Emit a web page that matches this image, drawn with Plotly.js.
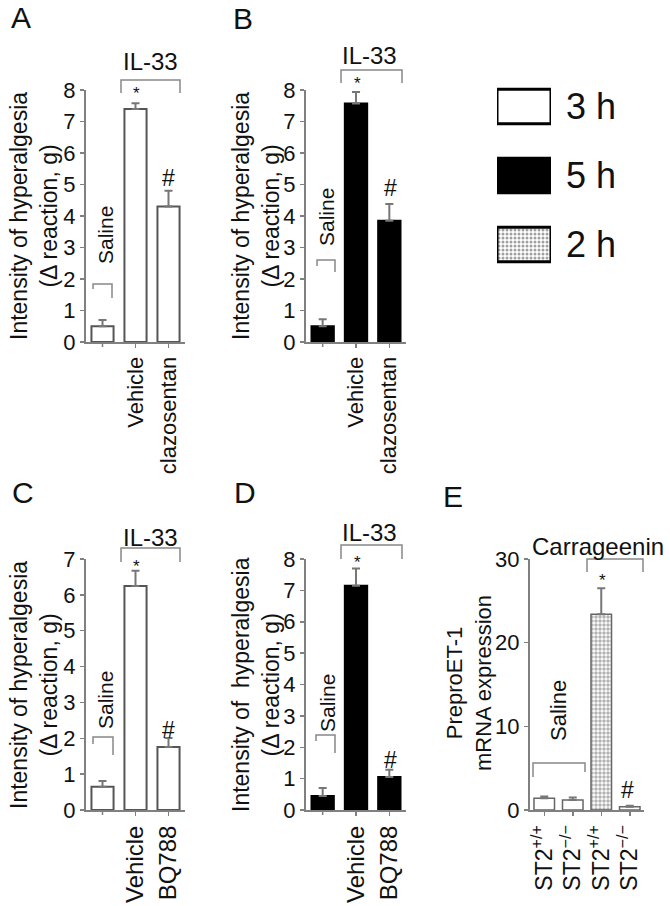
<!DOCTYPE html>
<html><head><meta charset="utf-8">
<script src="https://cdn.plot.ly/plotly-3.0.1.min.js"></script>
<style>html,body{margin:0;padding:0;background:#fff}</style>
</head><body><div id="chart" style="width:670px;height:906px"></div>
<script>
// ---- data ----
const catsAB = ['Saline', 'Vehicle', 'clazosentan'];
const catsCD = ['Saline', 'Vehicle', 'BQ788'];
const catsE = ['ST2+/+ saline', 'ST2-/- saline', 'ST2+/+ carrageenin', 'ST2-/- carrageenin'];
const labelledAB = ['Vehicle', 'clazosentan'];
const labelledCD = ['Vehicle', 'BQ788'];
const tickTextE = ['ST2<sup>+/+</sup>', 'ST2<sup>−/−</sup>', 'ST2<sup>+/+</sup>', 'ST2<sup>−/−</sup>'];
const valuesA = [0.5, 7.4, 4.3];
const errorsA = [0.2, 0.18, 0.5];
const valuesB = [0.5, 7.57, 3.85];
const errorsB = [0.22, 0.37, 0.53];
const valuesC = [0.65, 6.25, 1.76];
const errorsC = [0.16, 0.42, 0.25];
const valuesD = [0.45, 7.15, 1.05];
const errorsD = [0.25, 0.55, 0.23];
const valuesE = [1.4, 1.2, 23.4, 0.4];
const errorsE = [0.2, 0.3, 3.1, 0.1];
const legendLabels = ['3 h', '5 h', '2 h'];
const legendValues = [1, 1, 1];

// ---- helpers ----
const W = 670, H = 906;
const fx = p => p / W;
const fy = p => 1 - p / H;
const FONT = 'Liberation Sans, Arial, Helvetica, sans-serif';
const AX = '#808080';

function xAx(dom, n, tickvals, ticktext, anchor, fs) {
  return {domain: [fx(dom[0]), fx(dom[1])], anchor: anchor, range: [-0.5, n - 0.5],
    type: 'category', tickmode: 'array', tickvals: tickvals, ticktext: ticktext,
    tickangle: -90, showline: true, linecolor: AX, linewidth: 2, ticks: 'outside',
    ticklen: 4, tickwidth: 1.5, tickcolor: AX, showgrid: false, zeroline: false,
    tickfont: {size: fs, color: '#111', family: FONT}, fixedrange: true};
}
function yAx(dom, range, dtick, anchor) {
  return {domain: [fy(dom[1]), fy(dom[0])], anchor: anchor, range: range, dtick: dtick, tick0: 0,
    showline: true, linecolor: AX, linewidth: 2, ticks: 'outside', ticklen: 4, tickwidth: 1.5,
    tickcolor: AX, showgrid: false, zeroline: false,
    tickfont: {size: 22, color: '#111', family: FONT}, fixedrange: true};
}
function barTrace(cats, vals, errs, xa, ya, fill, line, width) {
  return {type: 'bar', x: cats, y: vals, xaxis: xa, yaxis: ya, width: width,
    marker: {color: fill, line: {color: line, width: 2}},
    error_y: {type: 'data', array: errs, arrayminus: errs.map(() => 0), symmetric: false,
      color: '#777', thickness: 2, width: 4},
    hoverinfo: 'none'};
}

const traces = [
  barTrace(catsAB, valuesA, errorsA, 'x', 'y', '#ffffff', '#555', 0.67),
  barTrace(catsAB, valuesB, errorsB, 'x2', 'y2', '#000000', '#000', 0.67),
  barTrace(catsCD, valuesC, errorsC, 'x3', 'y3', '#ffffff', '#555', 0.67),
  barTrace(catsCD, valuesD, errorsD, 'x4', 'y4', '#000000', '#000', 0.67),
];
const eTrace = barTrace(catsE, valuesE, errorsE, 'x5', 'y5', '#ffffff', '#666', 0.72);
eTrace.marker.line.width = 1.5;
eTrace.marker.pattern = {shape: ['', '', '.', ''], fgcolor: '#666', bgcolor: '#ffffff',
  size: 4, solidity: 0.6, fillmode: 'overlay'};
traces.push(eTrace);
// legend boxes
traces.push({type: 'bar', orientation: 'h', y: legendLabels, x: legendValues, xaxis: 'x6', yaxis: 'y6',
  width: 0.5, hoverinfo: 'none',
  marker: {color: ['#ffffff', '#000000', '#ffffff'], line: {color: '#000', width: 3},
    pattern: {shape: ['', '', '.'], fgcolor: '#888', bgcolor: '#ffffff', size: 4, solidity: 0.45, fillmode: 'overlay'}}});

const layout = {
  width: W, height: H, margin: {l: 0, r: 0, t: 0, b: 0}, showlegend: false,
  paper_bgcolor: '#fff', plot_bgcolor: 'rgba(0,0,0,0)', font: {family: FONT, color: '#111'},
  bargap: 0,
  xaxis: xAx([86, 185], 3, labelledAB, labelledAB, 'y', 22),
  yaxis: yAx([90, 342], [0, 8], 1, 'x'),
  xaxis2: xAx([306, 406], 3, labelledAB, labelledAB, 'y2', 22),
  yaxis2: yAx([90, 342], [0, 8], 1, 'x2'),
  xaxis3: xAx([86, 185], 3, labelledCD, labelledCD, 'y3', 24),
  yaxis3: yAx([559, 810], [0, 7], 1, 'x3'),
  xaxis4: xAx([306, 406], 3, labelledCD, labelledCD, 'y4', 24),
  yaxis4: yAx([559, 810], [0, 8], 1, 'x4'),
  xaxis5: xAx([530, 644], 4, catsE, tickTextE, 'y5', 23),
  yaxis5: yAx([559, 810], [0, 30], 10, 'x5'),
  xaxis6: {domain: [fx(497), fx(551)], anchor: 'y6', range: [0, 1], visible: false, fixedrange: true},
  yaxis6: {domain: [fy(279), fy(72)], anchor: 'x6', type: 'category', range: [2.5, -0.5],
    side: 'right', showline: false, showgrid: false, zeroline: false, ticks: '',
    ticklabelstandoff: 14, tickfont: {size: 36, color: '#111', family: FONT}, fixedrange: true},
  shapes: [], annotations: []
};

// unlabeled "Saline" tick mark on each of the first four x axes
[['x', 342], ['x2', 342], ['x3', 810], ['x4', 810]].forEach(([xa, yb]) => {
  layout.shapes.push({type: 'line', xref: xa, yref: 'paper', x0: 'Saline', x1: 'Saline',
    y0: fy(yb + 1), y1: fy(yb + 5), line: {color: AX, width: 1.5}});
});

function bracket(x1, x2, ytop, yl, yr) {
  layout.shapes.push({type: 'path', xref: 'paper', yref: 'paper',
    path: `M${fx(x1)},${fy(yl)} L${fx(x1)},${fy(ytop)} L${fx(x2)},${fy(ytop)} L${fx(x2)},${fy(yr)}`,
    line: {color: '#888', width: 1.5}});
}
function txt(t, x, y, size, angle) {
  layout.annotations.push({text: t, x: fx(x), y: fy(y), xref: 'paper', yref: 'paper',
    showarrow: false, xanchor: 'center', yanchor: 'middle', textangle: angle || 0,
    font: {size: size, color: '#111', family: FONT}});
}

// Panel letters
txt('A', 21, 18, 30); txt('B', 243, 19, 30); txt('C', 23, 492, 30); txt('D', 245, 492, 30); txt('E', 453, 496, 30);
// y titles
const yt = 'Intensity of hyperalgesia<br>(Δ reaction, g)';
txt(yt, 34, 216, 23, -90); txt(yt, 256, 216, 23, -90);
txt(yt, 34, 685, 23, -90); txt('Intensity of  hyperalgesia<br>(Δ reaction, g)', 256, 685, 23, -90);
txt('PreproET-1<br>mRNA expression', 469, 683, 22, -90);

// Panel A decorations
bracket(121, 180, 80, 93, 93); txt('IL-33', 150, 61, 24);
txt('*', 136, 94, 17); txt('#', 168, 178, 23);
txt('Saline', 105, 235, 21, -90); bracket(93, 112, 284, 289, 298);
// Panel B
bracket(341, 402, 70, 83, 83); txt('IL-33', 369, 56, 24);
txt('*', 357, 83, 17); txt('#', 390, 188, 23);
txt('Saline', 326, 217, 21, -90); bracket(317, 335, 260, 266, 272);
// Panel C
bracket(121, 180, 548, 562, 562); txt('IL-33', 150, 537, 24);
txt('*', 136, 566, 17); txt('#', 168, 730, 23);
txt('Saline', 105, 700, 21, -90); bracket(93, 113, 737, 744, 755);
// Panel D
bracket(341, 402, 545, 559, 559); txt('IL-33', 369, 532, 24);
txt('*', 357, 562, 17); txt('#', 390, 760, 23);
txt('Saline', 327, 703, 21, -90); bracket(316, 335, 735, 741, 753);
// Panel E
bracket(587, 643, 559, 572, 572); txt('Carrageenin', 598, 546, 24);
txt('*', 602, 580, 17); txt('#', 627, 790, 23);
txt('Saline', 558, 711, 22, -90); bracket(533, 585, 763, 777, 772);

Plotly.newPlot('chart', traces, layout, {staticPlot: true, displayModeBar: false});
</script></body></html>
